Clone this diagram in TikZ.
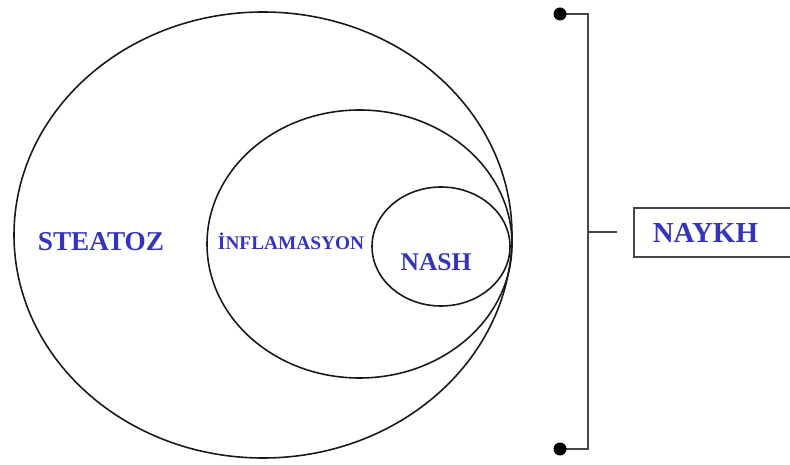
\documentclass[tikz,border=0pt]{standalone}
\usepackage{fontspec}
\setmainfont{Liberation Serif}
\usetikzlibrary{positioning,calc}
\definecolor{labcolor}{RGB}{52,52,190}
\definecolor{ringcolor}{RGB}{25,25,25}
\definecolor{bracecolor}{RGB}{70,70,70}
\tikzset{
  ringln/.style={line width=0.9pt, draw=ringcolor},
  braceln/.style={line width=1.1pt, draw=bracecolor},
  lab/.style={text=labcolor, font=\bfseries, inner sep=0pt},
  tagbox/.style={draw=bracecolor, line width=0.9pt, fill=white, anchor=west,
    minimum height=0.98cm, text width=3.0cm, inner xsep=0.38cm, inner ysep=0pt,
    align=left, text=labcolor, font=\bfseries\fontsize{16.5}{18}\selectfont},
}
\newcommand{\tipdot}[1]{%
  \fill[black] #1 circle (6.5);
}
\begin{document}
\begin{tikzpicture}[x=0.02cm, y=-0.02cm]
    \useasboundingbox (0,0) rectangle (790,465);
    % Nested rings, all touching on the right
    \draw[ringln] (263,235) circle[x radius=249, y radius=223];
    \draw[ringln] (359.5,244) circle[x radius=152.5, y radius=134];
    \draw[ringln] (441,246.5) circle[x radius=69, y radius=59.5];
    % Ring labels
    \node[lab, font=\bfseries\fontsize{15.5}{17}\selectfont] (steatoz) at (101,242) {STEATOZ};
    \node[lab, font=\bfseries\fontsize{11}{13}\selectfont] (inflam) at (291,241) {İNFLAMASYON};
    \node[lab, font=\bfseries\fontsize{14.5}{16}\selectfont] (nash) at (436,262) {NASH};
    % Bracket
    \coordinate (top) at (560,14);
    \coordinate (bot) at (560,449);
    \coordinate (mid) at (588,232);
    \coordinate (tick) at (617,232);
    \draw[braceln] (top) -- (588,14) -- (588,449) -- (bot);
    \draw[braceln] (mid) -- (tick);
    \tipdot{(top)}
    \tipdot{(bot)}
    % Result box
    \node[tagbox] (naykh) at (633,232.5) {NAYKH};
\end{tikzpicture}
\end{document}
